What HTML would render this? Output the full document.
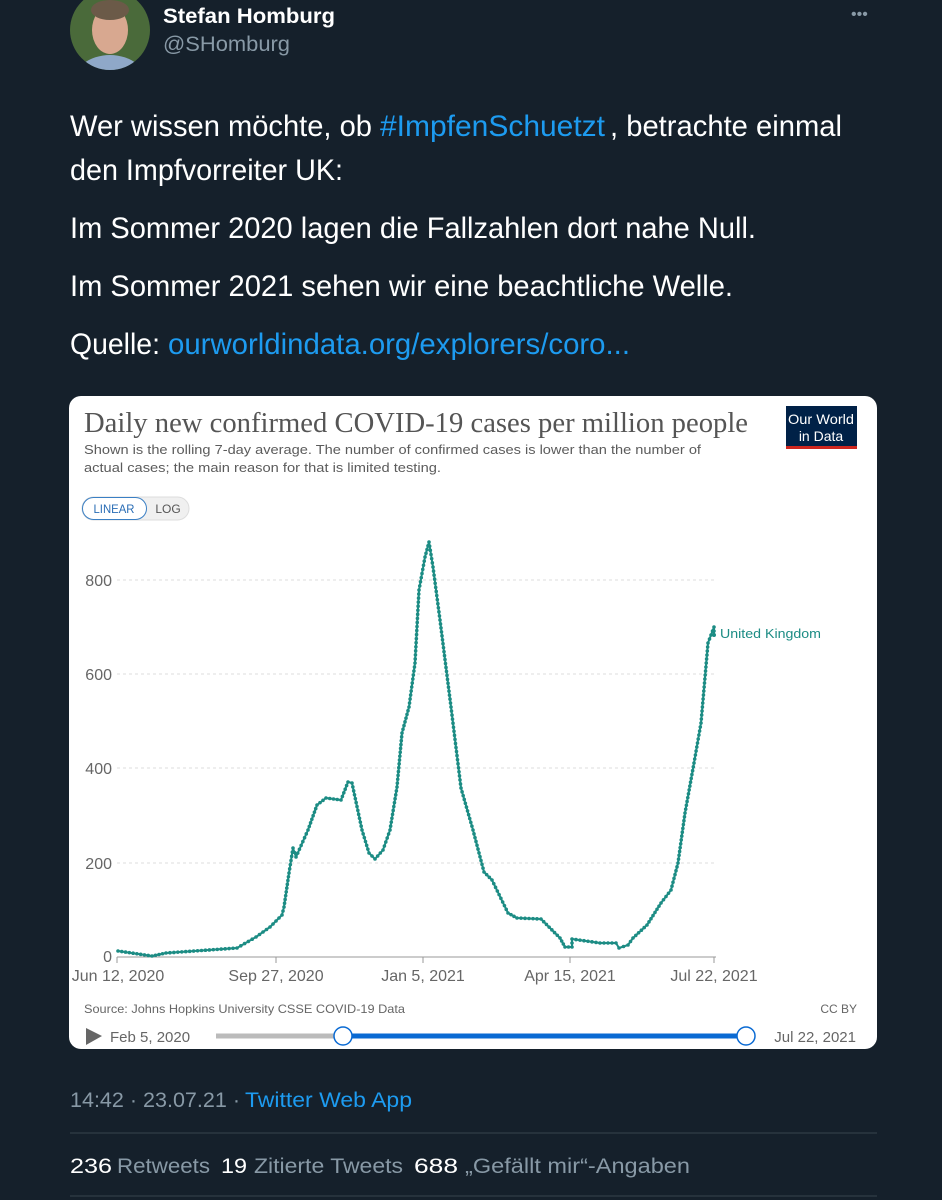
<!DOCTYPE html>
<html><head><meta charset="utf-8"><style>
html,body{margin:0;padding:0;background:#15202b;}
svg{display:block}
</style></head><body>
<svg width="942" height="1200" xmlns="http://www.w3.org/2000/svg" font-family="Liberation Sans, sans-serif">
<rect width="942" height="1200" fill="#15202b"/>
<!-- avatar -->
<defs><clipPath id="av"><circle cx="110" cy="30" r="40"/></clipPath></defs>
<g clip-path="url(#av)">
<rect x="60" y="-20" width="100" height="100" fill="#4a6a3a"/>
<ellipse cx="110" cy="85" rx="38" ry="30" fill="#8fa8c8"/>
<ellipse cx="110" cy="30" rx="18" ry="24" fill="#d8a890"/>
<ellipse cx="110" cy="10" rx="19" ry="10" fill="#6b5a48"/>
</g>
<text x="163" y="23" font-size="21" font-weight="bold" fill="#fff" textLength="172" lengthAdjust="spacingAndGlyphs">Stefan Homburg</text>
<text x="163" y="51" font-size="21" fill="#8899a6" textLength="127" lengthAdjust="spacingAndGlyphs">@SHomburg</text>
<text x="851" y="19" font-size="16" fill="#8899a6">•••</text>

<g font-size="30" fill="#fff">
<text x="70" y="136" textLength="302" lengthAdjust="spacingAndGlyphs">Wer wissen möchte, ob</text>
<text x="380" y="136" fill="#1d9bf0" textLength="225" lengthAdjust="spacingAndGlyphs">#ImpfenSchuetzt</text>
<text x="610" y="136" textLength="232" lengthAdjust="spacingAndGlyphs">, betrachte einmal</text>
<text x="70" y="180" textLength="273" lengthAdjust="spacingAndGlyphs">den Impfvorreiter UK:</text>
<text x="70" y="238" textLength="686" lengthAdjust="spacingAndGlyphs">Im Sommer 2020 lagen die Fallzahlen dort nahe Null.</text>
<text x="70" y="296" textLength="663" lengthAdjust="spacingAndGlyphs">Im Sommer 2021 sehen wir eine beachtliche Welle.</text>
<text x="70" y="354" textLength="90" lengthAdjust="spacingAndGlyphs">Quelle:</text>
<text x="168" y="354" fill="#1d9bf0" textLength="462" lengthAdjust="spacingAndGlyphs">ourworldindata.org/explorers/coro...</text>
</g>

<!-- card -->
<rect x="69" y="396" width="808" height="653" rx="12" fill="#fff"/>
<text x="84" y="432" font-family="Liberation Serif, serif" font-size="28" fill="#555" textLength="664" lengthAdjust="spacingAndGlyphs">Daily new confirmed COVID-19 cases per million people</text>
<text x="84" y="454" font-size="13" fill="#5b5b5b" textLength="617" lengthAdjust="spacingAndGlyphs">Shown is the rolling 7-day average. The number of confirmed cases is lower than the number of</text>
<text x="84" y="472" font-size="13" fill="#5b5b5b" textLength="357" lengthAdjust="spacingAndGlyphs">actual cases; the main reason for that is limited testing.</text>
<rect x="786" y="406" width="71" height="40" fill="#002147"/>
<rect x="786" y="446" width="71" height="3" fill="#ce261e"/>
<text x="821" y="424" font-size="14" fill="#fff" text-anchor="middle" textLength="66" lengthAdjust="spacingAndGlyphs">Our World</text>
<text x="821" y="441" font-size="14" fill="#fff" text-anchor="middle">in Data</text>

<rect x="82" y="497" width="107" height="23" rx="11.5" fill="#f0f0f0" stroke="#ddd"/>
<rect x="82.5" y="497.5" width="64" height="22" rx="11" fill="#fff" stroke="#3a7fc4"/>
<text x="114" y="513" font-size="12" fill="#2a6db5" text-anchor="middle" textLength="41" lengthAdjust="spacingAndGlyphs">LINEAR</text>
<text x="168" y="513" font-size="12" fill="#555" text-anchor="middle">LOG</text>

<!-- grid -->
<g stroke="#ddd" stroke-dasharray="3,3" stroke-width="1">
<line x1="117" y1="580" x2="716" y2="580"/>
<line x1="117" y1="674" x2="716" y2="674"/>
<line x1="117" y1="768" x2="716" y2="768"/>
<line x1="117" y1="863" x2="716" y2="863"/>
</g>
<line x1="117" y1="957" x2="716" y2="957" stroke="#999"/>
<g stroke="#999"><line x1="117" y1="957" x2="117" y2="963"/><line x1="276" y1="957" x2="276" y2="963"/><line x1="423" y1="957" x2="423" y2="963"/><line x1="570" y1="957" x2="570" y2="963"/><line x1="714" y1="957" x2="714" y2="963"/></g>
<g font-size="16" fill="#666" text-anchor="end">
<text x="112" y="586">800</text><text x="112" y="680">600</text><text x="112" y="774">400</text><text x="112" y="869">200</text><text x="112" y="962">0</text>
</g>
<g font-size="16" fill="#666" text-anchor="middle">
<text x="118" y="981">Jun 12, 2020</text><text x="276" y="981">Sep 27, 2020</text><text x="423" y="981">Jan 5, 2021</text><text x="570" y="981">Apr 15, 2021</text><text x="714" y="981">Jul 22, 2021</text>
</g>
<polyline id="ln" fill="none" stroke="#1c8c84" stroke-width="2" stroke-linejoin="round" points=""/>
<g id="dots" fill="#1c8c84"></g>
<text x="720" y="638" font-size="13" fill="#1c8c84" textLength="101" lengthAdjust="spacingAndGlyphs">United Kingdom</text>

<text x="84" y="1013" font-size="12" fill="#666" textLength="321" lengthAdjust="spacingAndGlyphs">Source: Johns Hopkins University CSSE COVID-19 Data</text>
<text x="857" y="1013" font-size="12" fill="#666" text-anchor="end">CC BY</text>
<polygon points="86,1028 102,1036 86,1045" fill="#666"/>
<text x="110" y="1042" font-size="15" fill="#666">Feb 5, 2020</text>
<line x1="216" y1="1036" x2="343" y2="1036" stroke="#bbb" stroke-width="5"/>
<line x1="343" y1="1036" x2="746" y2="1036" stroke="#0a6ad3" stroke-width="5"/>
<circle cx="343" cy="1036" r="9" fill="#fff" stroke="#0a6ad3" stroke-width="1.5"/>
<circle cx="746" cy="1036" r="9" fill="#fff" stroke="#0a6ad3" stroke-width="1.5"/>
<text x="856" y="1042" font-size="15" fill="#666" text-anchor="end">Jul 22, 2021</text>

<text x="70" y="1107" font-size="21" fill="#8899a6" textLength="170" lengthAdjust="spacingAndGlyphs">14:42 · 23.07.21 ·</text>
<text x="245" y="1107" font-size="21" fill="#1d9bf0" textLength="167" lengthAdjust="spacingAndGlyphs">Twitter Web App</text>
<line x1="70" y1="1133" x2="877" y2="1133" stroke="#38444d"/>
<g font-size="21">
<text x="70" y="1173" fill="#fff" textLength="42" lengthAdjust="spacingAndGlyphs">236</text>
<text x="117" y="1173" fill="#8899a6" textLength="93" lengthAdjust="spacingAndGlyphs">Retweets</text>
<text x="221" y="1173" fill="#fff" textLength="26" lengthAdjust="spacingAndGlyphs">19</text>
<text x="254" y="1173" fill="#8899a6" textLength="149" lengthAdjust="spacingAndGlyphs">Zitierte Tweets</text>
<text x="414" y="1173" fill="#fff" textLength="44" lengthAdjust="spacingAndGlyphs">688</text>
<text x="465" y="1173" fill="#8899a6" textLength="225" lengthAdjust="spacingAndGlyphs">„Gefällt mir“-Angaben</text>
</g>
<line x1="70" y1="1196" x2="877" y2="1196" stroke="#38444d"/>
</svg>
<script>
var p=[[118,951],[152,956],[166,953],[237,948],[256,937],[270,927],[282,915],[284,907],[289,873],[293,848],[296,857],[308,830],[317,805],[326,798],[341,800],[348,782],[352,783],[362,830],[369,853],[375,859],[383,850],[390,830],[397,787],[402,733],[409,707],[415,663],[419,590],[425,557],[429,542],[433,567],[440,620],[451,707],[461,788],[473,830],[484,872],[492,880],[508,913],[517,918],[541,919],[560,938],[565,947],[572,947],[572,939],[600,943],[616,943],[619,948],[628,945],[633,938],[647,925],[661,903],[671,890],[678,863],[685,813],[694,763],[701,723],[708,643],[714,627],[714,635]];
document.getElementById('ln').setAttribute('points',p.map(function(a){return a.join(',')}).join(' '));
var g=document.getElementById('dots'),s='';
for(var i=0;i<p.length-1;i++){var a=p[i],b=p[i+1],d=Math.hypot(b[0]-a[0],b[1]-a[1]),n=Math.max(1,Math.round(d/4));for(var k=0;k<n;k++){var t=k/n;s+='<circle cx="'+(a[0]+(b[0]-a[0])*t)+'" cy="'+(a[1]+(b[1]-a[1])*t)+'" r="1.8"/>';}}
s+='<circle cx="714" cy="635" r="2"/>';
g.innerHTML=s;
</script>
</body></html>
